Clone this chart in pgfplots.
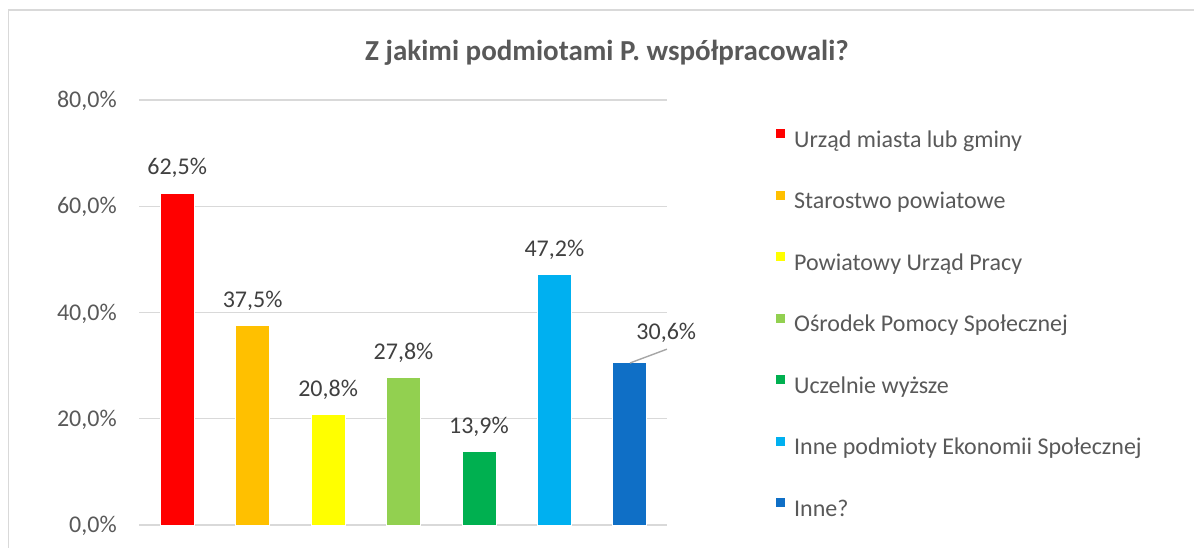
\documentclass[border=0pt]{standalone}
\usepackage{fontspec}
\setmainfont{Carlito}
\usepackage{pgfplots}
\pgfplotsset{compat=1.18}
\definecolor{txt}{HTML}{595959}
\definecolor{lbl}{HTML}{404040}
\definecolor{grd}{HTML}{D9D9D9}
\definecolor{c1}{HTML}{FF0000}
\definecolor{c2}{HTML}{FFC000}
\definecolor{c3}{HTML}{FFFF00}
\definecolor{c4}{HTML}{92D050}
\definecolor{c5}{HTML}{00B050}
\definecolor{c6}{HTML}{00B0F0}
\definecolor{c7}{HTML}{0F6FC6}
\begin{document}
\begin{tikzpicture}
\useasboundingbox (0,0) rectangle (597pt,-273.5pt);
\draw[grd, line width=0.75pt] (4.3pt,-5pt) rectangle (700pt,-400pt);
\node[anchor=base, text=txt, font=\fontsize{14.5}{17}\selectfont\bfseries] at (303.5pt,-30pt) {Z jakimi podmiotami P. współpracowali?};
\begin{axis}[
  at={(69.75pt,-262.5pt)}, anchor=south west,
  scale only axis, width=264pt, height=212.5pt,
  xmin=-0.5, xmax=6.5, ymin=0, ymax=80,
  ytick={0,20,40,60,80}, xtick=\empty,
  ymajorgrids, grid style={grd, line width=0.65pt},
  axis line style={draw=none}, major tick length=0pt,
  /pgf/number format/assume math mode=true,
  yticklabel={\pgfmathprintnumber[fixed,fixed zerofill,precision=1,use comma]{\tick}\%},
  yticklabel style={anchor=base east, inner sep=0pt, xshift=-11.2pt, yshift=-3.8pt, text=txt, font=\fontsize{12}{14}\selectfont},
  ybar, bar width=17pt, bar shift=0pt,
  point meta=y,
  nodes near coords={\pgfmathprintnumber[fixed,fixed zerofill,precision=1,use comma]{\pgfplotspointmeta}\%},
  every node near coord/.append style={anchor=base, inner sep=0pt, yshift=9pt, text=lbl, font=\fontsize{12}{14}\selectfont},
  legend cell align=left,
  legend image code/.code={\fill[#1, draw=none] (0pt,1.6pt) rectangle (4.5pt,6.1pt); \path (0pt,0pt) -- (8.65pt,0pt);},
  legend style={at={(1.2049,0.9325)}, anchor=north west, draw=none, fill=none, inner sep=0pt, row sep=18.65pt, column sep=0pt,
    font=\fontsize{12}{14}\selectfont, text=txt, nodes={inner sep=0pt, text height=9pt, text depth=3pt}},
]
\addplot[fill=c1, draw=white, line width=0.4pt] coordinates {(0,62.5)};
\addlegendentry{Urząd miasta lub gminy}
\addplot[fill=c2, draw=white, line width=0.4pt] coordinates {(1,37.5)};
\addlegendentry{Starostwo powiatowe}
\addplot[fill=c3, draw=white, line width=0.4pt] coordinates {(2,20.8)};
\addlegendentry{Powiatowy Urząd Pracy}
\addplot[fill=c4, draw=white, line width=0.4pt] coordinates {(3,27.8)};
\addlegendentry{Ośrodek Pomocy Społecznej}
\addplot[fill=c5, draw=white, line width=0.4pt] coordinates {(4,13.9)};
\addlegendentry{Uczelnie wyższe}
\addplot[fill=c6, draw=white, line width=0.4pt] coordinates {(5,47.2)};
\addlegendentry{Inne podmioty Ekonomii Społecznej}
\addplot[fill=c7, draw=white, line width=0.4pt, every node near coord/.append style={xshift=18.25pt, yshift=2.7pt}] coordinates {(6,30.6)};
\addlegendentry{Inne?}
\draw[color=black!35, line width=0.7pt] (axis cs:6.003,30.5) -- (axis cs:6.493,33.1);
\end{axis}
\end{tikzpicture}
\end{document}
